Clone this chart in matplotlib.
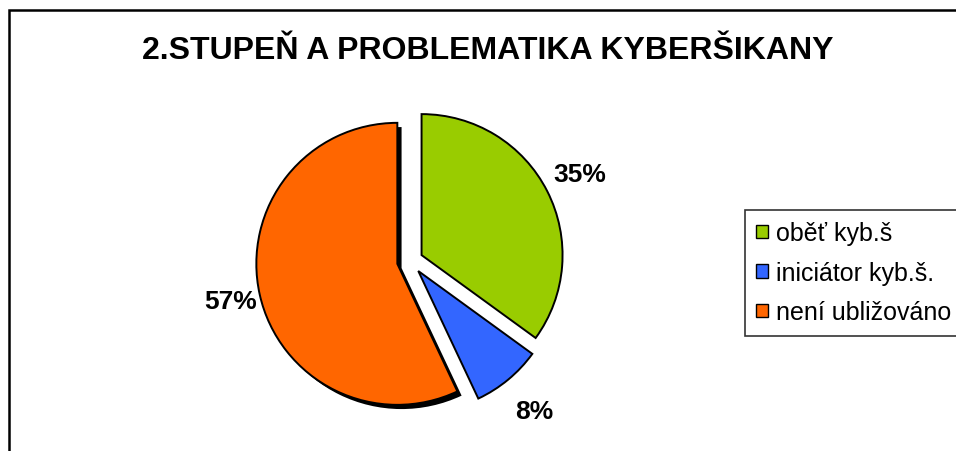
import matplotlib
matplotlib.use("Agg")
import numpy as np
import matplotlib.pyplot as plt
from matplotlib.patches import Wedge, Rectangle

plt.rcParams['font.family'] = ['Liberation Sans', 'DejaVu Sans']

title = "2.STUPEŇ A PROBLEMATIKA KYBERŠIKANY"
categories = ["oběť kyb.š", "iniciátor kyb.š.", "není ubližováno"]
values = [35, 8, 57]
colors = ["#99CC00", "#3366FF", "#FF6600"]
label_dist = [1.26, 1.29, 1.21]

W, H = 956, 452
fig = plt.figure(figsize=(W / 100, H / 100), dpi=100)

# frame around chart area
fig.patches.append(Rectangle((8.5 / W, -0.1), 1.2, 1 - 11 / H + 0.1, transform=fig.transFigure,
                             fill=False, edgecolor='black', linewidth=1.8))

# pie axes: center (410, 262) px, radius 141 px
cx, cy, R = 410, 262, 141
span = 1.3
size = 2 * span * R
ax = fig.add_axes([(cx - size / 2) / W, (H - cy - size / 2) / H, size / W, size / H])

wedges, texts, autotexts = ax.pie(
    values, colors=colors, startangle=90, counterclock=False,
    explode=[0.092] * 3, autopct='%1.0f%%', pctdistance=1.27,
    wedgeprops=dict(edgecolor='black', linewidth=1.4),
    textprops=dict(fontsize=19, fontweight='bold'))
ax.set_xlim(-span, span)
ax.set_ylim(-span, span)
ax.set_aspect('equal')
ax.axis('off')

# label placement per slice
for w, t, d in zip(wedges, autotexts, label_dist):
    a = np.deg2rad((w.theta1 + w.theta2) / 2)
    t.set_position((w.center[0] + d * np.cos(a), w.center[1] + d * np.sin(a)))

# shadow for the large slice
w = wedges[2]
off = 0.03
sh = Wedge((w.center[0] + off, w.center[1] - off), w.r, w.theta1, w.theta2,
           facecolor='black', edgecolor='black', linewidth=0, zorder=w.get_zorder() - 0.1)
ax.add_patch(sh)

fig.text(488 / W, 1 - 51 / H, title, ha='center', va='center', fontsize=23, fontweight='bold')

leg = fig.legend(wedges, categories, loc='upper left', bbox_to_anchor=(745 / W, 1 - 211 / H),
                 borderaxespad=0, frameon=True, fancybox=False, fontsize=18,
                 handlelength=0.45, handleheight=0.45, handletextpad=0.35,
                 labelspacing=0.62, borderpad=0.45)
leg.get_frame().set_edgecolor('black')
leg.get_frame().set_linewidth(1.2)
for hnd in leg.legend_handles:
    hnd.set_linewidth(1.0)

fig.savefig("out.png", dpi=100)
